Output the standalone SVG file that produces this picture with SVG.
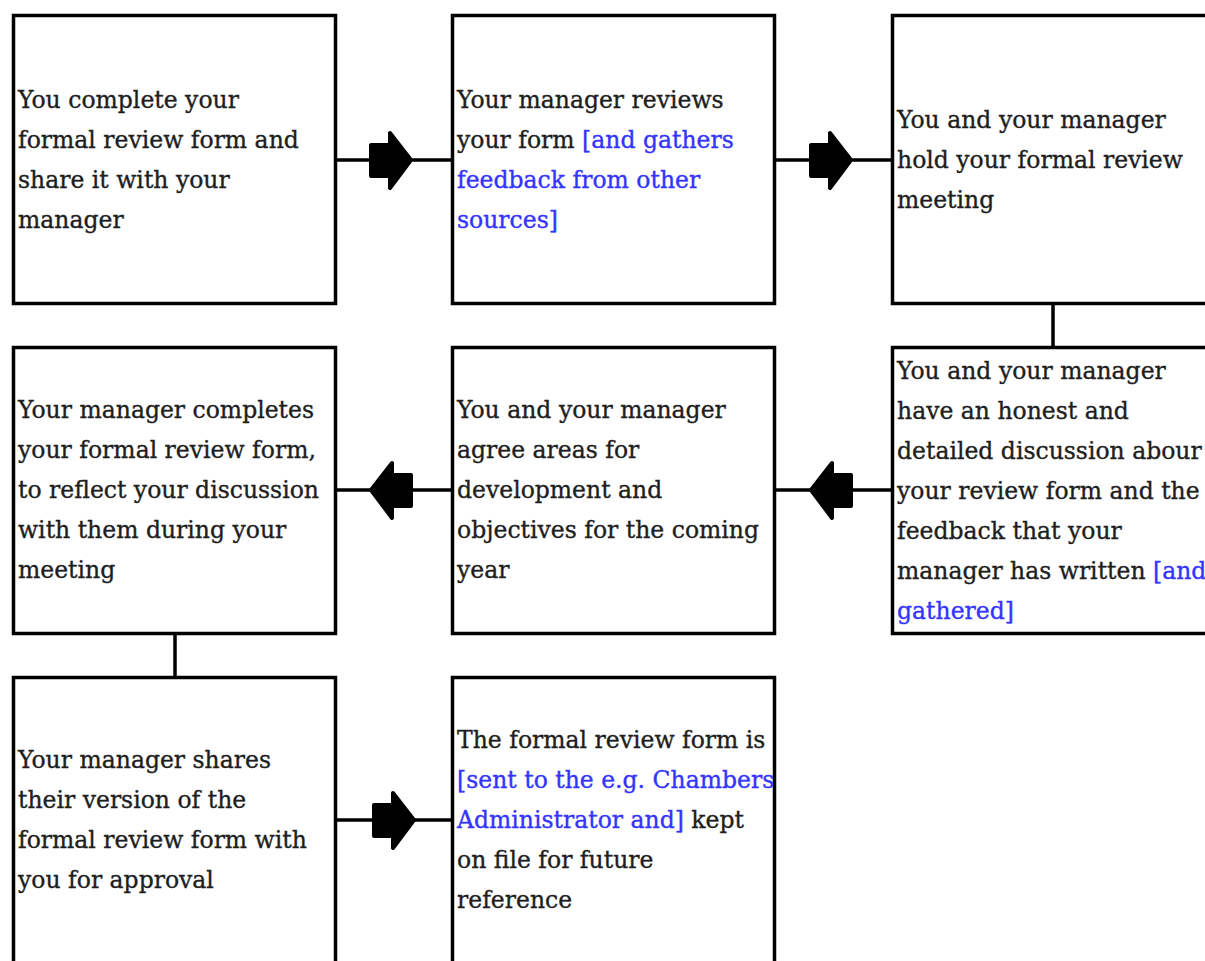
<svg xmlns="http://www.w3.org/2000/svg" width="1205" height="961" viewBox="0 0 1205 961">
<style>
.box{fill:#fff;stroke:#000;stroke-width:3.5}
.t{font-family:"DejaVu Serif","Liberation Serif",serif;font-size:23.5px;fill:#1e1e1e;stroke:#1e1e1e;stroke-width:0.35}
.b{fill:#3434ff;stroke:#3434ff}
.ln{stroke:#000;stroke-width:3.5;fill:none}
.arr{fill:#000;stroke:#000;stroke-width:4;stroke-linejoin:round}
</style>
<defs>
<path id="ar" class="arr" d="M -41 -15 L -22 -15 L -22 -27 L -1 0 L -22 28 L -22 16 L -41 16 Z"/>
</defs>
<rect width="1205" height="961" fill="#fff"/>
<g id="connectors">
<line class="ln" x1="337" y1="160" x2="452" y2="160"/>
<line class="ln" x1="776" y1="160" x2="892" y2="160"/>
<line class="ln" x1="1053" y1="304" x2="1053" y2="347"/>
<line class="ln" x1="776" y1="490" x2="892" y2="490"/>
<line class="ln" x1="337" y1="490" x2="452" y2="490"/>
<line class="ln" x1="175" y1="634" x2="175" y2="677"/>
<line class="ln" x1="337" y1="820" x2="452" y2="820"/>
<use href="#ar" transform="translate(412,160)"/>
<use href="#ar" transform="translate(852,160)"/>
<use href="#ar" transform="translate(810,490) scale(-1,1)"/>
<use href="#ar" transform="translate(370,490) scale(-1,1)"/>
<use href="#ar" transform="translate(415,820)"/>
</g>
<g id="n1">
<rect class="box" x="13.5" y="15.5" width="322" height="288"/>
<text class="t"><tspan x="18" y="108">You complete your</tspan><tspan x="18" y="148">formal review form and</tspan><tspan x="18" y="188">share it with your</tspan><tspan x="18" y="228">manager</tspan></text>
</g>
<g id="n2">
<rect class="box" x="452.5" y="15.5" width="322" height="288"/>
<text class="t"><tspan x="457" y="108">Your manager reviews</tspan><tspan x="457" y="148">your form <tspan class="b">[and gathers</tspan></tspan><tspan class="b" x="457" y="188">feedback from other</tspan><tspan class="b" x="457" y="228">sources]</tspan></text>
</g>
<g id="n3">
<rect class="box" x="892.5" y="15.5" width="330" height="288"/>
<text class="t"><tspan x="897" y="128">You and your manager</tspan><tspan x="897" y="168">hold your formal review</tspan><tspan x="897" y="208">meeting</tspan></text>
</g>
<g id="n4">
<rect class="box" x="892.5" y="347.5" width="330" height="286"/>
<text class="t"><tspan x="897" y="379">You and your manager</tspan><tspan x="897" y="419">have an honest and</tspan><tspan x="897" y="459">detailed discussion abour</tspan><tspan x="897" y="499">your review form and the</tspan><tspan x="897" y="539">feedback that your</tspan><tspan x="897" y="579">manager has written <tspan class="b">[and</tspan></tspan><tspan class="b" x="897" y="619">gathered]</tspan></text>
</g>
<g id="n5">
<rect class="box" x="452.5" y="347.5" width="322" height="286"/>
<text class="t"><tspan x="457" y="418">You and your manager</tspan><tspan x="457" y="458">agree areas for</tspan><tspan x="457" y="498">development and</tspan><tspan x="457" y="538">objectives for the coming</tspan><tspan x="457" y="578">year</tspan></text>
</g>
<g id="n6">
<rect class="box" x="13.5" y="347.5" width="322" height="286"/>
<text class="t"><tspan x="18" y="418">Your manager completes</tspan><tspan x="18" y="458">your formal review form,</tspan><tspan x="18" y="498">to reflect your discussion</tspan><tspan x="18" y="538">with them during your</tspan><tspan x="18" y="578">meeting</tspan></text>
</g>
<g id="n7">
<rect class="box" x="13.5" y="677.5" width="322" height="300"/>
<text class="t"><tspan x="18" y="768">Your manager shares</tspan><tspan x="18" y="808">their version of the</tspan><tspan x="18" y="848">formal review form with</tspan><tspan x="18" y="888">you for approval</tspan></text>
</g>
<g id="n8">
<rect class="box" x="452.5" y="677.5" width="322" height="300"/>
<text class="t"><tspan x="457" y="748">The formal review form is</tspan><tspan class="b" x="457" y="788">[sent to the e.g. Chambers</tspan><tspan x="457" y="828"><tspan class="b">Administrator and]</tspan> kept</tspan><tspan x="457" y="868">on file for future</tspan><tspan x="457" y="908">reference</tspan></text>
</g>
</svg>
